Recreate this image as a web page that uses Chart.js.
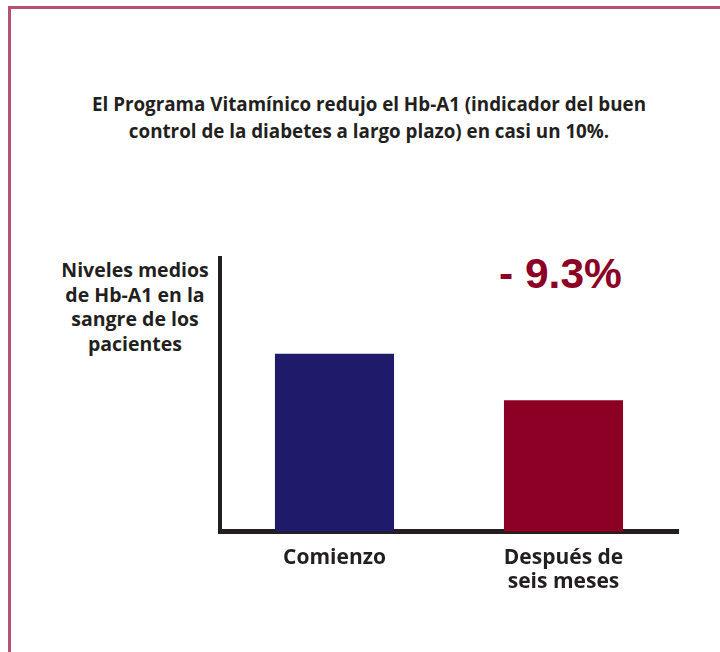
<!DOCTYPE html>
<html>
<head>
<meta charset="utf-8">
<script src="https://cdn.jsdelivr.net/npm/chart.js@4/dist/chart.umd.min.js"></script>
<style>
  html, body { margin: 0; padding: 0; background: #fff; }
  #page { position: relative; width: 720px; height: 652px; overflow: hidden; font-family: "Open Sans", sans-serif; color: #231f20; }
  #frame { position: absolute; left: 8px; top: 6px; width: 720px; height: 660px; border-top: 3px solid #b5526f; border-left: 3px solid #b5526f; }
  #title { position: absolute; left: 0; width: 738px; top: 91px; text-align: center; font-weight: bold; font-size: 18.8px; line-height: 27px; }
  #ylabel { position: absolute; left: 40px; width: 190px; top: 258px; text-align: center; font-weight: bold; font-size: 19.5px; line-height: 24.5px; }
  #change { position: absolute; left: 499px; top: 250px; font-family: "Liberation Sans", Arial, sans-serif; font-weight: bold; font-size: 42.5px; color: #8c0026; }
  #wrap { position: absolute; left: 0; top: 0; width: 720px; height: 652px; }
</style>
</head>
<body>
<div id="page">
  <div id="frame"></div>
  <div id="title">El Programa Vitamínico redujo el Hb-A1 (indicador del buen<br>control de la diabetes a largo plazo) en casi un 10%.</div>
  <div id="ylabel">Niveles medios<br>de Hb-A1 en la<br>sangre de los<br>pacientes</div>
  <div id="change"></div>
  <div id="wrap"><canvas id="chart"></canvas></div>
</div>
<script>
// bar heights, as a share of the y axis height
const categories = ['Comienzo', ['Después de', 'seis meses']];
const levels = [65, 48];
const barColors = ['#201a6b', '#8c0026'];
const reductionLabel = '- 9.3%';

document.getElementById('change').textContent = reductionLabel;

const ctx = document.getElementById('chart').getContext('2d');
new Chart(ctx, {
    type: 'bar',
    data: {
        labels: categories,
        datasets: [{
            data: levels,
            backgroundColor: barColors,
            borderWidth: 0,
            categoryPercentage: 1,
            barPercentage: 0.52
        }]
    },
    options: {
        responsive: true,
        maintainAspectRatio: false,
        animation: false,
        layout: {
            padding: { left: 212, top: 258, right: 42, bottom: 52 }
        },
        scales: {
            x: {
                z: 1,
                grid: { display: false },
                border: { display: true, color: '#231f20', width: 5 },
                ticks: {
                    color: '#231f20',
                    padding: 6,
                    font: { family: 'Open Sans', weight: 'bold', size: 21, lineHeight: 1.15 }
                }
            },
            y: {
                z: 1,
                min: 0,
                max: 100,
                grid: { display: false },
                border: { display: true, color: '#231f20', width: 4 },
                ticks: { display: false }
            }
        },
        plugins: {
            legend: { display: false },
            tooltip: { enabled: false }
        }
    }
});
</script>
</body>
</html>
